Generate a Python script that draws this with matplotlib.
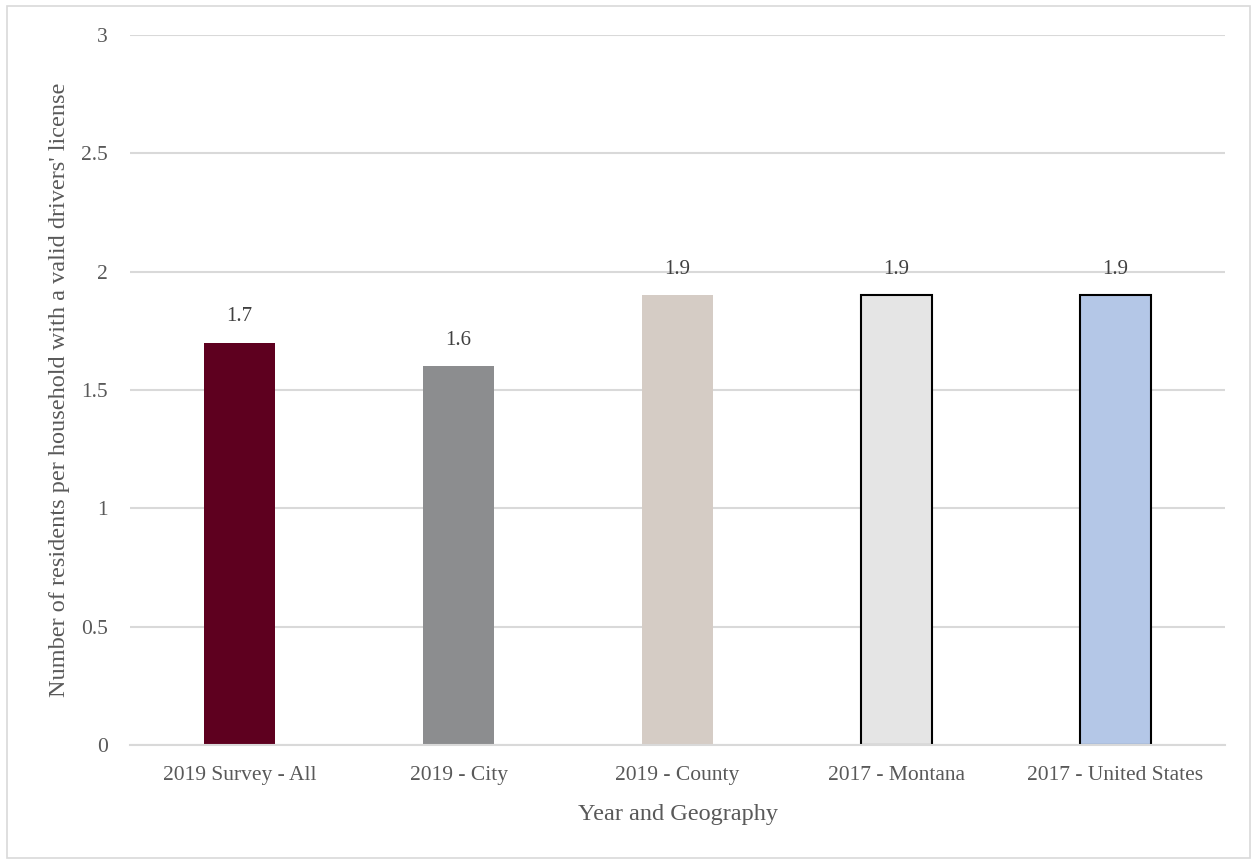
import matplotlib
matplotlib.use("Agg")
import matplotlib.pyplot as plt
from matplotlib.patches import Rectangle

categories = ["2019 Survey - All", "2019 - City", "2019 - County", "2017 - Montana", "2017 - United States"]
values = [1.7, 1.6, 1.9, 1.9, 1.9]
colors = ["#5e001f", "#8c8d8f", "#d5ccc5", "#e5e5e5", "#b4c7e7"]
edgecolors = ["none", "none", "none", "black", "black"]
yticks = [0, 0.5, 1, 1.5, 2, 2.5, 3]
ytick_labels = ["0", "0.5", "1", "1.5", "2", "2.5", "3"]

plt.rcParams['font.family'] = ['Liberation Serif', 'DejaVu Serif']
txt = "#595959"
grid = "#d9d9d9"

fig = plt.figure(figsize=(12.53, 8.61), dpi=100)
fig.patches.append(Rectangle((7/1253, 3/861), 1243/1253, 852/861, transform=fig.transFigure,
                             fill=False, edgecolor=grid, linewidth=1.2))
ax = fig.add_axes([130/1253, 1-745/861, 1095/1253, 710/861])

x = list(range(len(categories)))
for i in x:
    ec = edgecolors[i]
    ax.bar(i, values[i], width=0.32, color=colors[i],
           edgecolor=ec if ec != "none" else colors[i],
           linewidth=1.5 if ec != "none" else 0, zorder=3)
    ax.annotate(f"{values[i]:.1f}", (i, values[i]), xytext=(0, 12), textcoords="offset points",
                ha="center", va="bottom", fontsize=15, color="#404040")

ax.set_xlim(-0.5, len(categories) - 0.5)
ax.set_ylim(0, 3)
ax.set_yticks(yticks)
ax.set_yticklabels(ytick_labels)
ax.set_xticks(x)
ax.set_xticklabels(categories)
ax.yaxis.grid(True, color=grid, linewidth=1.5, zorder=0)
ax.set_axisbelow(True)
for s in ["top", "right", "left"]:
    ax.spines[s].set_visible(False)
ax.spines["bottom"].set_color(grid)
ax.spines["bottom"].set_linewidth(1.5)
ax.spines["bottom"].set_zorder(4)
ax.tick_params(axis="both", length=0, labelsize=15.5, labelcolor=txt)
ax.tick_params(axis="y", pad=16)
ax.tick_params(axis="x", pad=15)
ax.set_xlabel("Year and Geography", fontsize=17.5, color=txt, labelpad=14)
ax.set_ylabel("Number of residents per household with a valid drivers' license", fontsize=17.5,
              color=txt, labelpad=8)

fig.savefig("out.png", dpi=100)
